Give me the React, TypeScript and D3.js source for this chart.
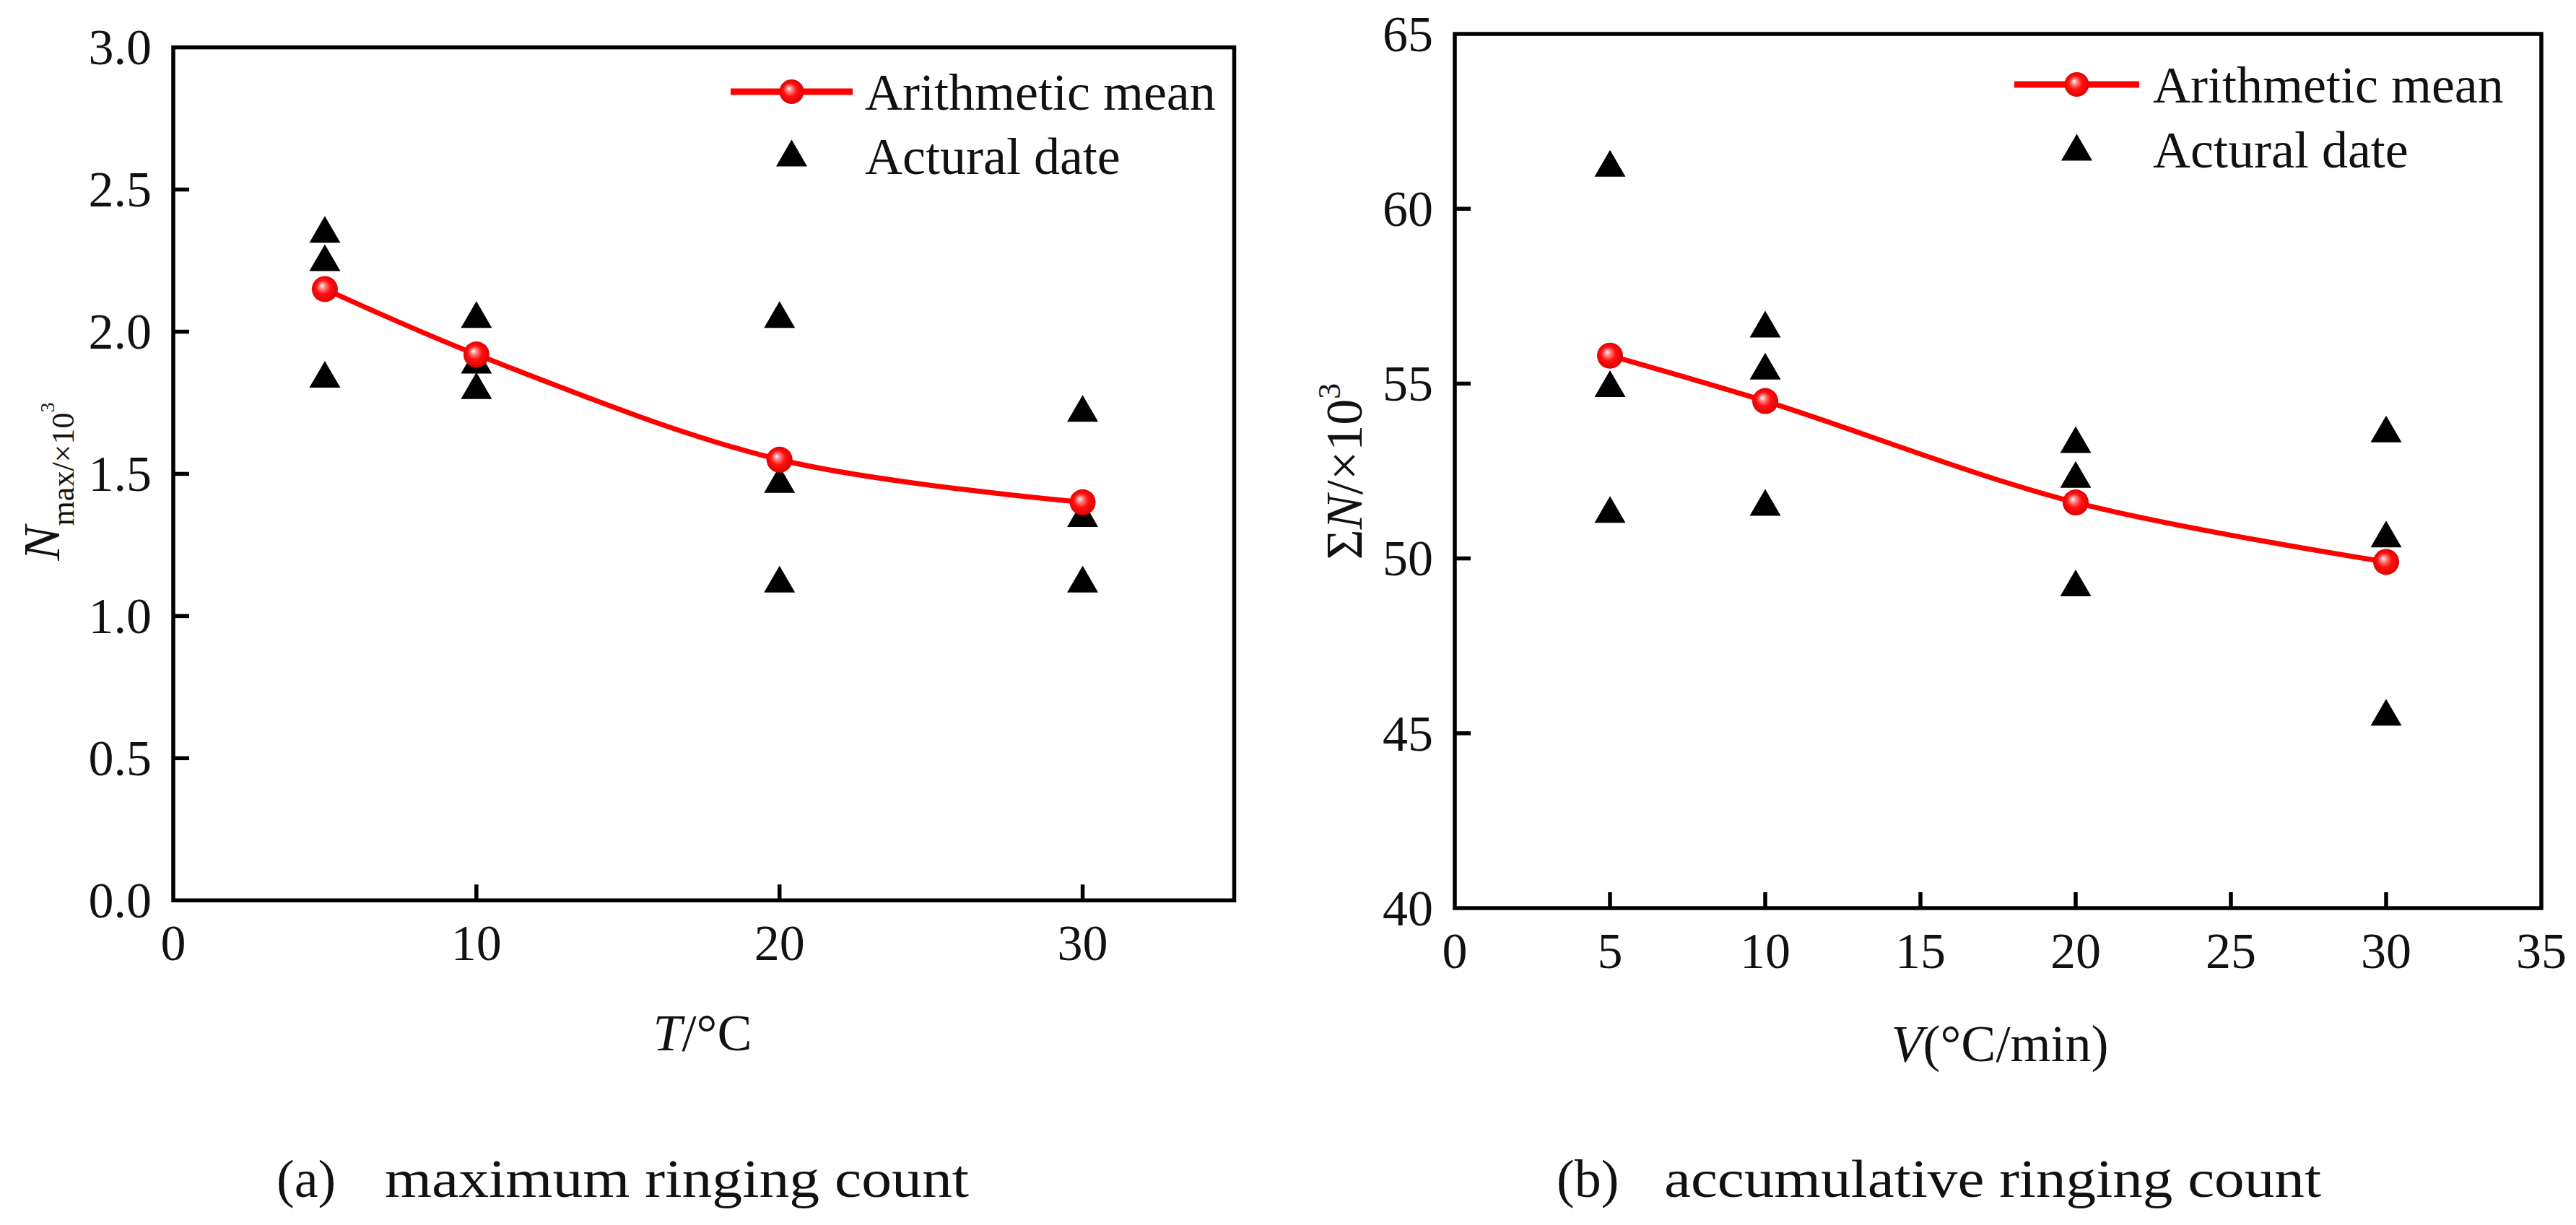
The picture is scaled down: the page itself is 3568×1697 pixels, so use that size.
import React from "react";
import * as d3 from "d3";

// ---------- data ----------
const tempX = [5, 10, 20, 30];
const nmaxMean = [2.15, 1.92, 1.55, 1.4];
const nmaxActual = [
  [2.36, 2.26, 1.85],
  [2.06, 1.9, 1.81],
  [2.06, 1.48, 1.13],
  [1.73, 1.36, 1.13],
];

const rateX = [5, 10, 20, 30];
const sumMean = [55.8, 54.5, 51.6, 49.9];
const sumActual = [
  [61.3, 55.0, 51.4],
  [56.7, 55.5, 51.6],
  [53.4, 52.4, 49.3],
  [53.7, 50.7, 45.6],
];

const leftXTicks = [0, 10, 20, 30];
const leftYTicks = [0, 0.5, 1.0, 1.5, 2.0, 2.5, 3.0];
const rightXTicks = [0, 5, 10, 15, 20, 25, 30, 35];
const rightYTicks = [40, 45, 50, 55, 60, 65];

const legendMean = "Arithmetic mean";
const legendActual = "Actural date";
const captionA = ["(a)", "maximum ringing count"];
const captionB = ["(b)", "accumulative ringing count"];

// ---------- style ----------
const SERIF = "'Liberation Serif', 'Times New Roman', serif";
const RED = "#ff0000";
const AXIS_W = 5.5;
const TICK_LEN = 22;
const TICK_FS = 70;
const TRI_H = 37;
const TRI_W = 43;
const CIRC_R = 18;

function triPath(cx: number, cy: number) {
  return `M${cx},${cy - TRI_H / 2}L${cx + TRI_W / 2},${cy + TRI_H / 2}L${cx - TRI_W / 2},${cy + TRI_H / 2}Z`;
}

type PanelProps = {
  x: d3.ScaleLinear<number, number>;
  y: d3.ScaleLinear<number, number>;
  xTicks: number[];
  yTicks: number[];
  yFmt: (v: number) => string;
  xs: number[];
  mean: number[];
  actual: number[][];
  legend: { x1: number; x2: number; y: number; tx: number; ty1: number; ty2: number; triY: number };
};

function Panel({ x, y, xTicks, yTicks, yFmt, xs, mean, actual, legend }: PanelProps) {
  const [x0, x1] = x.range();
  const [y0, y1] = y.range(); // y0 bottom, y1 top
  const line = d3
    .line<number>()
    .x((_, i) => x(xs[i]))
    .y((d) => y(d))
    .curve(d3.curveCatmullRom.alpha(0.5));
  const lcx = (legend.x1 + legend.x2) / 2;
  return (
    <g>
      {/* triangles */}
      {actual.map((vals, i) =>
        vals.map((v, j) => <path key={`t${i}-${j}`} d={triPath(x(xs[i]), y(v))} fill="#000" />)
      )}
      {/* mean line */}
      <path d={line(mean) || ""} fill="none" stroke={RED} strokeWidth={7} />
      {mean.map((v, i) => (
        <circle key={`c${i}`} cx={x(xs[i])} cy={y(v)} r={CIRC_R} fill="url(#ballGrad)" />
      ))}
      {/* frame */}
      <rect x={x0} y={y1} width={x1 - x0} height={y0 - y1} fill="none" stroke="#000" strokeWidth={AXIS_W} />
      {/* x ticks */}
      {xTicks.map((t) => (
        <g key={`xt${t}`}>
          {t > x.domain()[0] && t < x.domain()[1] && (
            <line x1={x(t)} x2={x(t)} y1={y0} y2={y0 - TICK_LEN} stroke="#000" strokeWidth={AXIS_W} />
          )}
          <text x={x(t)} y={y0 + 83} textAnchor="middle" fontFamily={SERIF} fontSize={TICK_FS} fill="#111">
            {t}
          </text>
        </g>
      ))}
      {/* y ticks */}
      {yTicks.map((t) => (
        <g key={`yt${t}`}>
          {t > y.domain()[0] && t < y.domain()[1] && (
            <line x1={x0} x2={x0 + TICK_LEN} y1={y(t)} y2={y(t)} stroke="#000" strokeWidth={AXIS_W} />
          )}
          <text x={x0 - 30} y={y(t) + 0.34 * TICK_FS} textAnchor="end" fontFamily={SERIF} fontSize={TICK_FS} fill="#111">
            {yFmt(t)}
          </text>
        </g>
      ))}
      {/* legend */}
      <line x1={legend.x1} x2={legend.x2} y1={legend.y} y2={legend.y} stroke={RED} strokeWidth={9} />
      <circle cx={lcx} cy={legend.y} r={CIRC_R - 1} fill="url(#ballGrad)" />
      <text x={legend.tx} y={legend.ty1} fontFamily={SERIF} fontSize={72} fill="#111">
        {legendMean}
      </text>
      <path d={triPath(lcx, legend.triY)} fill="#000" />
      <text x={legend.tx} y={legend.ty2} fontFamily={SERIF} fontSize={72} fill="#111">
        {legendActual}
      </text>
    </g>
  );
}

export default function App() {
  const W = 3568;
  const H = 1697;

  const xL = d3.scaleLinear().domain([0, 35]).range([240, 1709.5]);
  const yL = d3.scaleLinear().domain([0, 3]).range([1247.3, 65.6]);
  const xR = d3.scaleLinear().domain([0, 35]).range([2015, 3520]);
  const yR = d3.scaleLinear().domain([40, 65]).range([1258, 47]);

  return (
    <svg
      width={W}
      height={H}
      viewBox={`0 0 ${W} ${H}`}
      style={{ position: "absolute", left: 0, top: 0, background: "#fff" }}
    >
      <defs>
        <radialGradient id="ballGrad" cx="0.5" cy="0.5" r="0.55" fx="0.38" fy="0.36">
          <stop offset="0" stopColor="#ffffff" />
          <stop offset="0.22" stopColor="#ff8080" />
          <stop offset="0.5" stopColor="#ff1010" />
          <stop offset="1" stopColor="#d80000" />
        </radialGradient>
      </defs>
      <rect x={0} y={0} width={W} height={H} fill="#fff" />

      <Panel
        x={xL}
        y={yL}
        xTicks={leftXTicks}
        yTicks={leftYTicks}
        yFmt={d3.format(".1f")}
        xs={tempX}
        mean={nmaxMean}
        actual={nmaxActual}
        legend={{ x1: 1012, x2: 1181, y: 127, tx: 1198, ty1: 152, ty2: 241, triY: 212 }}
      />
      <Panel
        x={xR}
        y={yR}
        xTicks={rightXTicks}
        yTicks={rightYTicks}
        yFmt={d3.format("d")}
        xs={rateX}
        mean={sumMean}
        actual={sumActual}
        legend={{ x1: 2790, x2: 2963, y: 117, tx: 2982, ty1: 142, ty2: 232, triY: 204 }}
      />

      {/* y-axis titles */}
      <text transform="translate(82,667) rotate(-90)" textAnchor="middle" fontFamily={SERIF} fill="#111">
        <tspan fontSize={72} fontStyle="italic">N</tspan>
        <tspan fontSize={44} dy={20}>max/×10</tspan>
        <tspan fontSize={28} dy={-27}>3</tspan>
      </text>
      <text transform="translate(1886,653) rotate(-90)" textAnchor="middle" fontFamily={SERIF} fill="#111">
        <tspan fontSize={72}>Σ</tspan>
        <tspan fontSize={72} fontStyle="italic">N</tspan>
        <tspan fontSize={72}>/×10</tspan>
        <tspan fontSize={44} dy={-30}>3</tspan>
      </text>

      {/* x-axis titles */}
      <text x={973} y={1455} textAnchor="middle" fontFamily={SERIF} fontSize={72} fill="#111">
        <tspan fontStyle="italic">T</tspan>/°C
      </text>
      <text x={2770} y={1470} textAnchor="middle" fontFamily={SERIF} fontSize={72} fill="#111">
        <tspan fontStyle="italic">V</tspan>(°C/min)
      </text>

      {/* captions */}
      <text x={383} y={1658} fontFamily={SERIF} fontSize={74} fill="#111">
        {captionA[0]}
      </text>
      <text x={533} y={1658} fontFamily={SERIF} fontSize={74} fill="#111" textLength={809} lengthAdjust="spacingAndGlyphs">
        {captionA[1]}
      </text>
      <text x={2156} y={1658} fontFamily={SERIF} fontSize={74} fill="#111">
        {captionB[0]}
      </text>
      <text x={2305} y={1658} fontFamily={SERIF} fontSize={74} fill="#111" textLength={910} lengthAdjust="spacingAndGlyphs">
        {captionB[1]}
      </text>
    </svg>
  );
}
